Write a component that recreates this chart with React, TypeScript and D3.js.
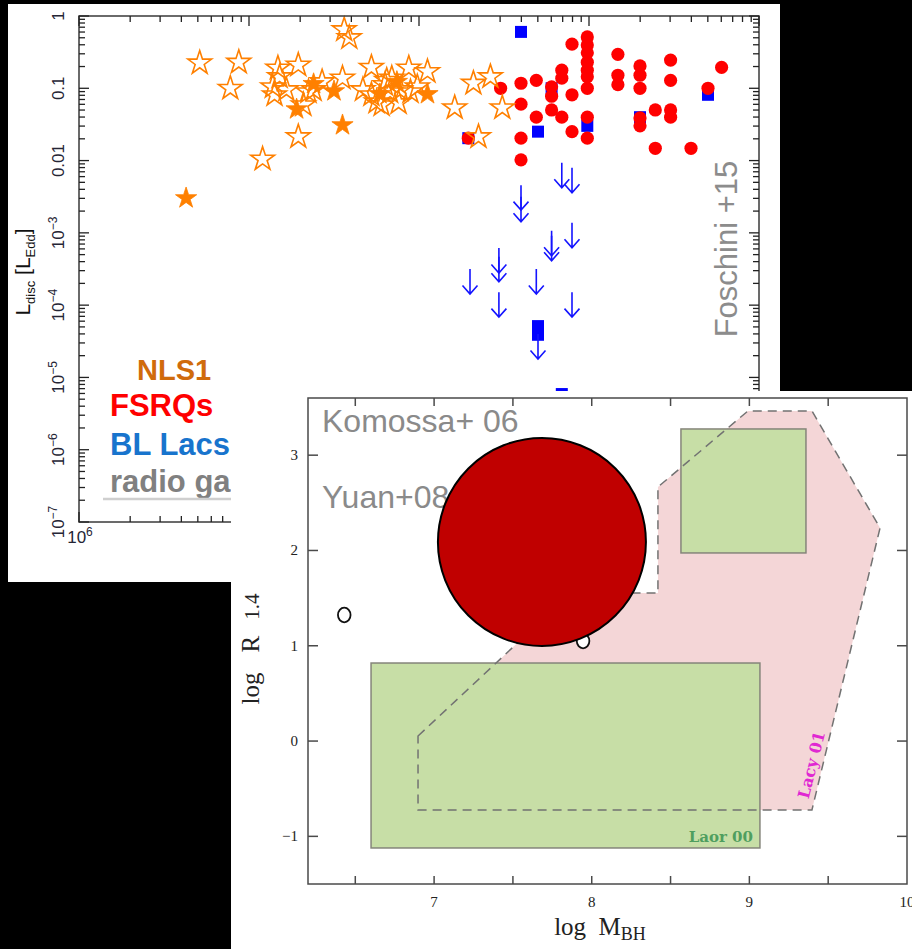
import React from "react";
import * as d3 from "d3";

const WIDTH = 912;
const HEIGHT = 949;

// ---------- Upper panel: L_disc / L_Edd versus M_BH (log10 values) ----------
// NLS1, open stars: [log M_BH, log L_disc]
const nls1Open: [number, number][] = [
  [6.71, -0.65], [6.94, -0.64], [6.89, -1.0], [7.17, -0.72], [7.29, -0.68],
  [7.14, -0.98], [7.15, -1.09], [7.56, -0.19], [7.59, -0.3], [7.55, -0.86],
  [7.43, -0.91], [7.38, -1.02], [7.32, -1.23], [7.29, -1.67], [7.08, -1.98],
  [7.72, -0.71], [7.67, -1.02], [7.75, -1.19], [7.88, -1.2], [7.94, -0.72],
  [8.05, -0.77], [7.99, -0.98], [7.83, -1.05], [8.32, -0.93], [8.42, -0.84],
  [8.21, -1.27], [8.35, -1.67], [8.49, -1.27], [7.8, -0.95], [7.89, -1.02],
  [7.72, -1.09], [7.84, -0.86], [7.95, -1.05], [7.78, -1.23], [7.35, -1.05],
  [7.18, -0.84], [7.22, -1.02], [7.81, -0.89],
];

// NLS1, filled stars
const nls1Filled: [number, number][] = [
  [6.63, -2.52], [7.28, -1.29], [7.55, -1.51], [7.5, -1.04],
  [7.38, -0.94], [7.87, -0.91], [7.77, -1.08], [8.05, -1.08],
];

// FSRQs, red dots
const fsrq: [number, number][] = [
  [8.48, -1.0], [8.6, -0.93], [8.6, -1.22], [8.6, -1.69], [8.6, -1.99],
  [8.69, -0.89], [8.69, -1.4], [8.78, -0.98], [8.78, -1.11], [8.78, -1.3],
  [8.84, -0.75], [8.84, -0.86], [8.84, -1.4], [8.9, -0.39], [8.9, -1.09],
  [8.9, -1.6], [8.99, -0.29], [8.99, -0.4], [8.99, -0.51], [8.99, -0.64],
  [8.99, -0.75], [8.99, -0.84], [8.99, -1.0], [8.99, -1.4], [8.99, -1.69],
  [9.17, -0.53], [9.17, -0.82], [9.17, -0.95], [9.3, -0.69], [9.3, -0.82],
  [9.3, -1.0], [9.3, -1.41], [9.3, -1.52], [9.39, -1.3], [9.39, -1.83],
  [9.48, -0.61], [9.48, -0.89], [9.48, -1.3], [9.48, -1.4], [9.6, -1.83],
  [9.7, -1.0], [9.78, -0.71], [8.29, -1.69],
];

// BL Lacs, blue squares
const blLac: [number, number][] = [
  [8.6, -0.22], [8.7, -1.6], [8.78, -1.0], [8.99, -1.52], [9.3, -1.4],
  [9.7, -1.09], [8.29, -1.69], [8.7, -4.29], [8.7, -4.41], [8.84, -5.23],
];

// BL Lacs, upper limits (arrows hang down from the value)
const blLacLimits: [number, number][] = [
  [8.84, -2.03], [8.9, -2.1], [8.6, -2.34], [8.6, -2.5], [8.9, -2.86],
  [8.78, -2.97], [8.78, -3.04], [8.47, -3.21], [8.47, -3.33], [8.3, -3.5],
  [8.69, -3.5], [8.47, -3.82], [8.9, -3.82], [8.7, -4.4],
];

const yMajorExponents = [0, -1, -2, -3, -4, -5, -6, -7];
const xMajorExponents = [6, 7, 8, 9, 10];

const legendNames = ["NLS1", "FSRQs", "BL Lacs", "radio galaxies"];
const legendColors = ["#d06b0c", "#ff0000", "#1874cd", "#808080"];

// ---------- Lower panel: radio loudness versus M_BH ----------
// Laor 00 boxes: [xMin, xMax, yMin, yMax]
const laorBoxes: [number, number, number, number][] = [
  [6.6, 9.067, -1.122, 0.819],
  [8.566, 9.359, 1.974, 3.275],
];

// Lacy 01 region outline
const lacyRegion: [number, number][] = [
  [6.898, 0.053], [7.868, 1.554], [8.42, 1.554], [8.42, 2.666],
  [8.991, 3.464], [9.397, 3.464], [9.829, 2.236], [9.397, -0.723],
  [6.898, -0.723],
];

const yuanSource: [number, number] = [7.684, 2.089];
const openSources: [number, number][] = [[6.43, 1.323], [7.945, 1.05]];

const xbTicks = [6.5, 7, 7.5, 8, 8.5, 9, 9.5];
const xbLabels = [7, 8, 9, 10];
const ybTicks = [-1, 0, 1, 2, 3];

const SANS = "'Liberation Sans', Arial, Helvetica, sans-serif";
const SERIF = "'Liberation Serif', 'Times New Roman', serif";
const SLAB = "'DejaVu Serif', serif";

export default function App() {
  // upper panel scales
  const xA = d3.scaleLog().domain([1e6, 1e10]).range([79, 759]);
  const yA = d3.scaleLog().domain([1e-7, 1]).range([522, 16]);
  const px = (d: [number, number]) => xA(Math.pow(10, d[0]));
  const py = (d: [number, number]) => yA(Math.pow(10, d[1]));

  const isDecade = (t: number) => {
    const l = Math.log10(t);
    return Math.abs(l - Math.round(l)) < 1e-9;
  };

  const starOpen = d3.symbol().type(d3.symbolStar).size(175)() as string;
  const starFilled = d3.symbol().type(d3.symbolStar).size(140)() as string;

  const aLeft = 79, aRight = 759, aTop = 16, aBottom = 522;

  // lower panel scales
  const xB = d3.scaleLinear().domain([6.2, 10]).range([308, 907]);
  const yB = d3.scaleLinear().domain([-1.5, 3.6]).range([884, 398]);
  const lacyPath = d3
    .line<[number, number]>()
    .x((d) => xB(d[0]))
    .y((d) => yB(d[1]))
    .curve(d3.curveLinearClosed)(lacyRegion) as string;

  const arrowLen = 25;

  return (
    <div style={{ position: "fixed", left: 0, top: 0 }}>
      <svg width={WIDTH} height={HEIGHT} style={{ display: "block" }}>
        <rect x={0} y={0} width={WIDTH} height={HEIGHT} fill="#000" />

        {/* ===== upper panel ===== */}
        <rect x={8} y={4} width={772} height={578} fill="#fff" />

        {/* blue squares */}
        {blLac.map((d, i) => (
          <rect key={"sq" + i} x={px(d) - 6} y={py(d) - 6} width={12} height={12} fill="#0000ff" />
        ))}
        {/* red dots */}
        {fsrq.map((d, i) => (
          <circle key={"fs" + i} cx={px(d)} cy={py(d)} r={6.6} fill="#ff0000" />
        ))}
        {/* stars */}
        {nls1Open.map((d, i) => (
          <path key={"so" + i} d={starOpen} transform={`translate(${px(d)},${py(d)})`}
            fill="none" stroke="#ff8000" strokeWidth={1.6} strokeLinejoin="miter" />
        ))}
        {nls1Filled.map((d, i) => (
          <path key={"sf" + i} d={starFilled} transform={`translate(${px(d)},${py(d)})`}
            fill="#ff8000" stroke="#ff8000" strokeWidth={0.8} />
        ))}
        {/* upper limits */}
        {blLacLimits.map((d, i) => {
          const x = px(d);
          const y0 = py(d);
          const tip = y0 + arrowLen;
          return (
            <path key={"ar" + i}
              d={`M${x},${y0}L${x},${tip}M${x - 7.5},${tip - 8.5}L${x},${tip}L${x + 7.5},${tip - 8.5}`}
              fill="none" stroke="#1414ff" strokeWidth={1.6} />
          );
        })}

        {/* frame */}
        <rect x={aLeft} y={aTop} width={aRight - aLeft} height={aBottom - aTop}
          fill="none" stroke="#3a3a3a" strokeWidth={1.5} />
        {xA.ticks().map((t, i) => {
          const len = isDecade(t) ? 10 : 6;
          const x = xA(t);
          return (
            <g key={"xt" + i} stroke="#222" strokeWidth={1.3}>
              <line x1={x} x2={x} y1={aBottom} y2={aBottom - len} />
              <line x1={x} x2={x} y1={aTop} y2={aTop + len} />
            </g>
          );
        })}
        {yA.ticks().map((t, i) => {
          const len = isDecade(t) ? 10 : 6;
          const y = yA(t);
          return (
            <g key={"yt" + i} stroke="#222" strokeWidth={1.3}>
              <line x1={aLeft} x2={aLeft + len} y1={y} y2={y} />
              <line x1={aRight} x2={aRight - len} y1={y} y2={y} />
            </g>
          );
        })}
        {yMajorExponents.map((e) => {
          const y = yA(Math.pow(10, e));
          return (
            <text key={"yl" + e} transform={`translate(64,${y}) rotate(-90)`} textAnchor="middle"
              fontFamily={SANS} fontSize={17} fill="#252535">
              {e > -3 ? String(Math.pow(10, e).toFixed(-e)) : "10"}
              {e <= -3 ? <tspan dy={-7} fontSize={12}>{"\u2212" + -e}</tspan> : null}
            </text>
          );
        })}
        {xMajorExponents.map((e) => (
          <text key={"xl" + e} x={xA(Math.pow(10, e)) + 1} y={543} textAnchor="middle"
            fontFamily={SANS} fontSize={17} fill="#252535">
            10<tspan dy={-7} fontSize={12}>{e}</tspan>
          </text>
        ))}
        <text transform="translate(30,272) rotate(-90)" textAnchor="middle" fontFamily={SANS}
          fontSize={21} fill="#111">
          L<tspan fontSize={13} dy={5}>disc</tspan>
          <tspan dy={-5} fontSize={21}>{" [L"}</tspan>
          <tspan fontSize={13} dy={5}>Edd</tspan>
          <tspan dy={-5} fontSize={21}>]</tspan>
        </text>
        <text transform="translate(737,249) rotate(-90)" textAnchor="middle" fontFamily={SANS}
          fontSize={31} fill="#8c8c8c">
          Foschini +15
        </text>

        {/* legend */}
        <text x={137} y={380} fontFamily={SANS} fontWeight="bold" fontSize={29} fill={legendColors[0]}>
          {legendNames[0]}
        </text>
        {legendNames.slice(1).map((n, i) => (
          <text key={n} x={110} y={[416, 455, 492][i]} fontFamily={SANS} fontWeight="bold"
            fontSize={31} fill={legendColors[i + 1]}>
            {n}
          </text>
        ))}
        <line x1={103} x2={231} y1={499} y2={499} stroke="#cfcfcf" strokeWidth={2.5} />

        {/* ===== lower panel ===== */}
        <rect x={231} y={391} width={WIDTH - 231} height={HEIGHT - 391} fill="#fff" />

        <path d={lacyPath} fill="#f4d6d7" stroke="none" />
        {laorBoxes.map((b, i) => (
          <rect key={"lb" + i} x={xB(b[0])} y={yB(b[3])} width={xB(b[1]) - xB(b[0])}
            height={yB(b[2]) - yB(b[3])} fill="#c7dea6" stroke="#85857a" strokeWidth={1.5} />
        ))}
        <path d={lacyPath} fill="none" stroke="#727272" strokeWidth={1.5} strokeDasharray="9 6" />

        <text x={xB(9.067) - 7} y={yB(-1.122) - 6} textAnchor="end" fontFamily={SLAB}
          fontWeight="bold" fontSize={15} fill="#4f9e5f">
          Laor 00
        </text>
        <text transform={`translate(${xB(9.394)},${yB(-0.25)}) rotate(-76)`} textAnchor="middle"
          dominantBaseline="central" fontFamily={SLAB} fontWeight="bold" fontSize={16} fill="#e028d2">
          Lacy 01
        </text>

        <text x={322} y={432} fontFamily={SANS} fontSize={32} fill="#8a8a8a">Komossa+ 06</text>
        <text x={322} y={508} fontFamily={SANS} fontSize={32} fill="#8a8a8a">Yuan+08</text>

        {openSources.map((d, i) => (
          <ellipse key={"os" + i} cx={xB(d[0])} cy={yB(d[1])} rx={6.3} ry={7.3}
            fill="#fff" stroke="#111" strokeWidth={1.8} />
        ))}
        <circle cx={xB(yuanSource[0])} cy={yB(yuanSource[1])} r={104} fill="#c00000"
          stroke="#000" strokeWidth={2} />

        {/* frame and ticks */}
        <rect x={308} y={398} width={599} height={486} fill="none" stroke="#4a4a4a" strokeWidth={1.5} />
        {xbTicks.map((t) => (
          <g key={"xbt" + t} stroke="#4a4a4a" strokeWidth={1.5}>
            <line x1={xB(t)} x2={xB(t)} y1={884} y2={876} />
            <line x1={xB(t)} x2={xB(t)} y1={398} y2={406} />
          </g>
        ))}
        {ybTicks.map((t) => (
          <g key={"ybt" + t} stroke="#4a4a4a" strokeWidth={1.5}>
            <line x1={308} x2={318} y1={yB(t)} y2={yB(t)} />
            <line x1={907} x2={897} y1={yB(t)} y2={yB(t)} />
          </g>
        ))}
        {xbLabels.map((t) => (
          <text key={"xbl" + t} x={xB(t)} y={907} textAnchor="middle" fontFamily={SERIF}
            fontSize={15} fill="#222">
            {String(t)}
          </text>
        ))}
        {ybTicks.map((t) => (
          <text key={"ybl" + t} x={298} y={yB(t) + 5} textAnchor="end" fontFamily={SERIF}
            fontSize={15} fill="#222">
            {t < 0 ? "\u2212" + -t : String(t)}
          </text>
        ))}
        <text x={600} y={935} textAnchor="middle" fontFamily={SERIF} fontSize={25} fill="#222"
          xmlSpace="preserve" style={{ whiteSpace: "pre" }}>
          {"log  M"}
          <tspan fontSize={18} dy={5}>BH</tspan>
        </text>
        <text transform="translate(259,649) rotate(-90)" textAnchor="middle" fontFamily={SERIF}
          fontSize={25} fill="#222">
          log
          <tspan dx={20}>R</tspan>
          <tspan dx={16} fontSize={21}>1.4</tspan>
        </text>
      </svg>
    </div>
  );
}
